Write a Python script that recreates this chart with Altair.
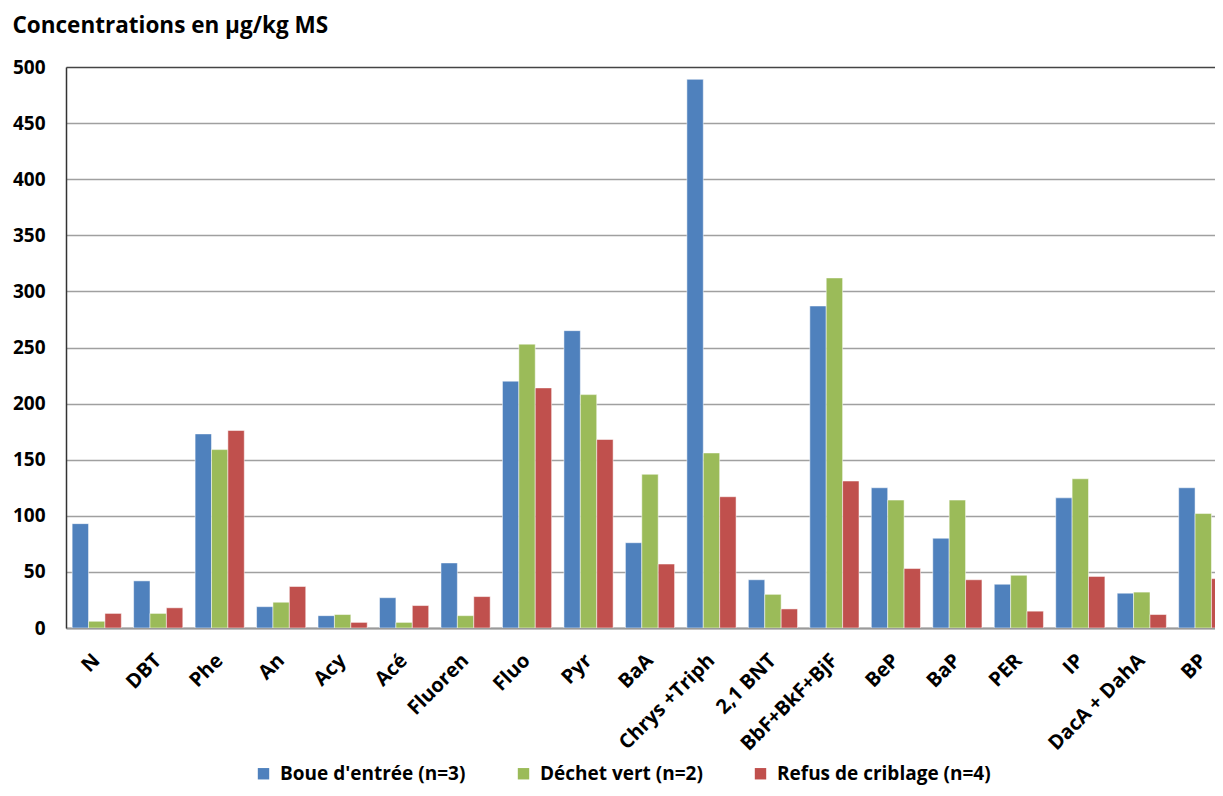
import altair as alt
import pandas as pd

categories = ["N", "DBT", "Phe", "An", "Acy", "Acé", "Fluoren", "Fluo", "Pyr", "BaA",
              "Chrys +Triph", "2,1 BNT", "BbF+BkF+BjF", "BeP", "BaP", "PER", "IP",
              "DacA + DahA", "BP"]
series = ["Boue d'entrée (n=3)", "Déchet vert (n=2)", "Refus de criblage (n=4)"]
boue = [93, 42, 173, 19, 11, 27, 58, 220, 265, 76, 489, 43, 287, 125, 80, 39, 116, 31, 125]
dechet = [6, 13, 159, 23, 12, 5, 11, 253, 208, 137, 156, 30, 312, 114, 114, 47, 133, 32, 102]
refus = [13, 18, 176, 37, 5, 20, 28, 214, 168, 57, 117, 17, 131, 53, 43, 15, 46, 12, 44]
y_ticks = list(range(0, 501, 50))
colors = ["#4F81BD", "#9BBB59", "#C0504D"]

rows = []
for s, vals in zip(series, [boue, dechet, refus]):
    for c, v in zip(categories, vals):
        rows.append({"cat": c, "serie": s, "val": v})
df = pd.DataFrame(rows)

FONT = "Open Sans"

chart = alt.Chart(df).mark_bar(
    clip=True, stroke="#ffffff", strokeOpacity=0.5, strokeWidth=1
).encode(
    x=alt.X("cat:N", sort=categories,
            scale=alt.Scale(range=[0, 1168], paddingInner=0.2, paddingOuter=0.1),
            axis=alt.Axis(title=None, labelAngle=-45, labelFont=FONT, labelFontWeight="bold",
                          labelFontSize=20, labelColor="#000000", ticks=False,
                          labelPadding=22, labelOffset=-7, domainColor="#9a9a9a",
                          domainWidth=2, labelLimit=0, grid=False)),
    xOffset=alt.XOffset("serie:N", sort=series,
                        scale=alt.Scale(paddingInner=0, paddingOuter=0)),
    y=alt.Y("val:Q", scale=alt.Scale(domain=[0, 500], nice=False),
            axis=alt.Axis(values=y_ticks, title="Concentrations en µg/kg MS",
                          titleAngle=0, titleX=-54, titleY=-35, titleAlign="left",
                          titleBaseline="alphabetic", titleFont=FONT, titleFontSize=22.5,
                          titleFontWeight="bold", titleColor="#000000",
                          labelFont=FONT, labelFontWeight="bold", labelFontSize=19,
                          labelColor="#000000", ticks=False, labelPadding=21,
                          domainColor="#333333", domainWidth=1.5,
                          gridColor=alt.condition("datum.value == 500", alt.value("#444444"), alt.value("#a0a0a0")),
                          gridWidth=1.6)),
    color=alt.Color("serie:N", sort=series,
                    scale=alt.Scale(domain=series, range=colors),
                    legend=alt.Legend(title=None, orient="none", direction="horizontal",
                                      legendX=188, legendY=697, symbolType="square",
                                      symbolSize=130, symbolStrokeWidth=0,
                                      labelFont=FONT, labelFontWeight="bold",
                                      labelFontSize=19, labelColor="#000000",
                                      labelOffset=7, columnPadding=48, padding=0,
                                      labelLimit=0)),
).properties(
    width=1149, height=561,
    autosize=alt.AutoSizeParams(type="none"),
    padding={"left": 58, "top": 59, "right": 0, "bottom": 160},
).configure_view(stroke=None)

chart.save("out.html", embed_options={"renderer": "svg", "actions": False})
